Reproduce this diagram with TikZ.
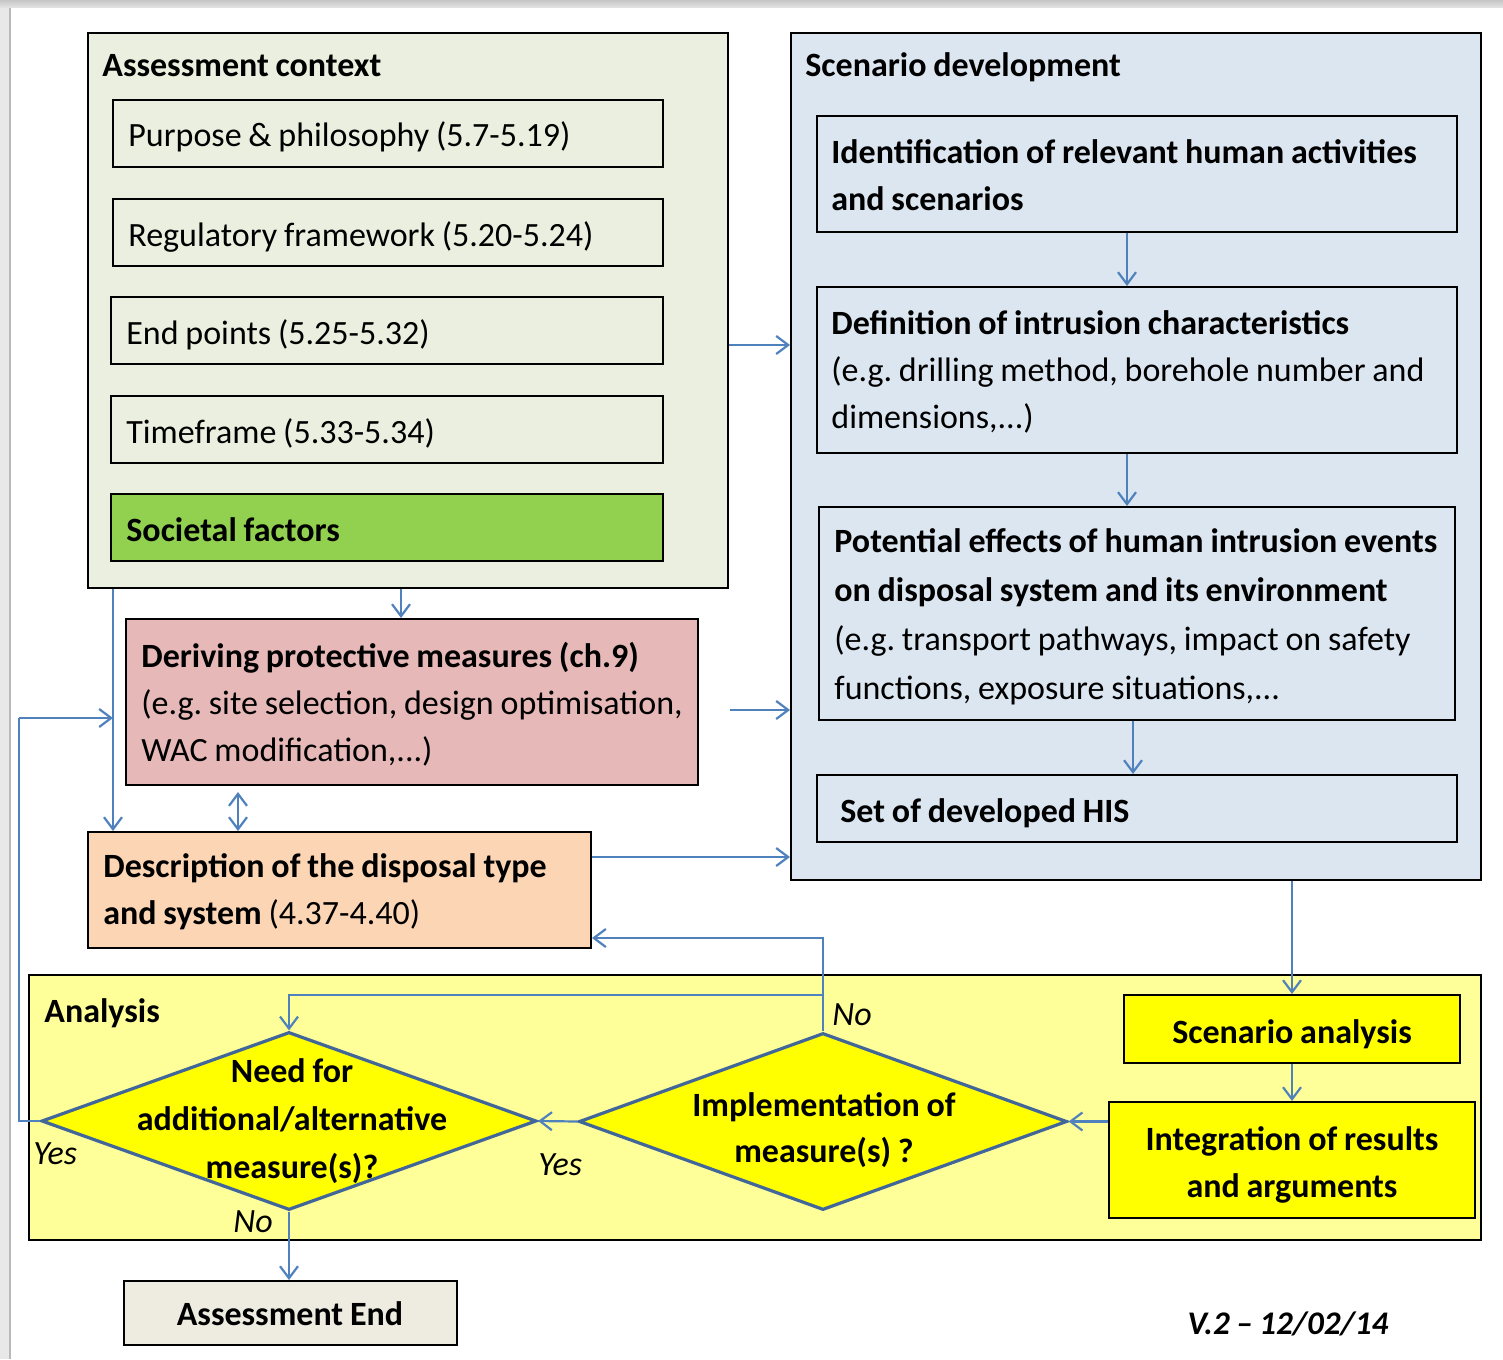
\documentclass[tikz,border=0pt]{standalone}
\usepackage{fontspec}
\setmainfont{Carlito}
\frenchspacing
\usetikzlibrary{arrows.meta,shapes.geometric,fit,calc}
\definecolor{ctxfill}{HTML}{EBEFDF}
\definecolor{scnfill}{HTML}{DCE6F1}
\definecolor{socfill}{HTML}{92D050}
\definecolor{derfill}{HTML}{E6B9B8}
\definecolor{descfill}{HTML}{FCD5B5}
\definecolor{anafill}{HTML}{FFFF99}
\definecolor{boxyellow}{HTML}{FFFF00}
\definecolor{endfill}{HTML}{EEECE1}
\definecolor{arrowblue}{HTML}{4F81BD}
\definecolor{diamondline}{HTML}{41669A}
\begin{document}
\begin{tikzpicture}[x=0.5pt,y=-0.5pt,
  every node/.style={font=\fontsize{17}{23.5}\selectfont},
  box/.style={draw=black,line width=1pt,inner sep=0pt,rectangle},
  tight/.style={execute at begin node={\spaceskip=0.2em\xspaceskip=0.2em\relax}},
  txt/.style={tight,inner sep=0pt,text width=320pt,align=left,anchor=base west},
  ctxt/.style={tight,inner sep=0pt,text width=220pt,align=center,anchor=base},
  lbl/.style={inner sep=0pt,anchor=base west,font=\fontsize{17}{20}\selectfont\itshape},
  conn/.style={draw=arrowblue,line width=1.1pt,-{Straight Barb[length=6pt,width=9pt]}},
  biconn/.style={draw=arrowblue,line width=1.1pt,{Straight Barb[length=6pt,width=9pt]}-{Straight Barb[length=6pt,width=9pt]}},
  wire/.style={draw=arrowblue,line width=1.1pt},
  decision/.style={diamond,draw=diamondline,line width=1.6pt,fill=boxyellow,inner sep=0pt}]

% page and window edge
\useasboundingbox (0,0) rectangle (1503,1359);
\fill[white] (0,0) rectangle (1503,1359);
\shade[top color=gray!45,bottom color=gray!20] (0,0) rectangle (1503,8);
\fill[gray!18] (0,8) rectangle (9,1359);
\draw[gray!55,line width=0.8pt] (10,8) -- (10,1359);

% Assessment context
\node[box,fill=ctxfill,fit={(88,33) (728,588)}] (ctx) {};
\node[txt,font=\fontsize{17}{23.5}\selectfont\bfseries] (ctxtitle) at (102,77) {Assessment context};
\node[box,fit={(113,100) (663,167)}] (purpose) {};
\node[txt] (purposetxt) at (128,147) {Purpose \& philosophy (5.7-5.19)};
\node[box,fit={(113,199) (663,266)}] (regul) {};
\node[txt] (regultxt) at (128,246) {Regulatory framework (5.20-5.24)};
\node[box,fit={(111,297) (663,364)}] (endp) {};
\node[txt] (endptxt) at (126,344) {End points (5.25-5.32)};
\node[box,fit={(111,396) (663,463)}] (timef) {};
\node[txt] (timeftxt) at (126,443) {Timeframe (5.33-5.34)};
\node[box,fill=socfill,fit={(111,494) (663,561)}] (soc) {};
\node[txt,font=\fontsize{17}{23.5}\selectfont\bfseries] (soctxt) at (126,541) {Societal factors};

% Scenario development
\node[box,fill=scnfill,fit={(791,33) (1481,880)}] (scn) {};
\node[txt,font=\fontsize{17}{23.5}\selectfont\bfseries] (scntitle) at (805,77) {Scenario development};
\node[box,fit={(817,116) (1457,232)}] (ident) {};
\node[txt,font=\fontsize{17}{23.5}\selectfont\bfseries] (identtxt) at (831,163) {Identification of relevant human activities\\and scenarios};
\node[box,fit={(817,287) (1457,453)}] (defin) {};
\node[txt] (defintxt) at (831,334) {\textbf{Definition of intrusion characteristics}\\(e.g. drilling method, borehole number and\\dimensions,...)};
\node[box,fit={(819,507) (1455,720)}] (poten) {};
\node[txt,font=\fontsize{17}{24.5}\selectfont] (potentxt) at (834,552) {\textbf{Potential effects of human intrusion events}\\\textbf{on disposal system and its environment}\\(e.g. transport pathways, impact on safety\\functions, exposure situations,...};
\node[box,fit={(817,775) (1457,842)}] (sethis) {};
\node[txt,font=\fontsize{17}{23.5}\selectfont\bfseries] (sethistxt) at (840,822) {Set of developed HIS};

% Protective measures and disposal description
\node[box,fill=derfill,fit={(126,619) (698,785)}] (deriv) {};
\node[txt] (derivtxt) at (141,667) {\textbf{Deriving protective measures (ch.9)}\\(e.g. site selection, design optimisation,\\WAC modification,...)};
\node[box,fill=descfill,fit={(88,832) (591,948)}] (desc) {};
\node[txt] (desctxt) at (103,877) {\textbf{Description of the disposal type}\\\textbf{and system} (4.37-4.40)};

% Analysis
\node[box,fill=anafill,fit={(29,975) (1481,1240)}] (ana) {};
\node[txt,font=\fontsize{17}{23.5}\selectfont\bfseries] (anatitle) at (44,1022) {Analysis};
\node[box,fill=boxyellow,fit={(1124,995) (1460,1063)}] (scana) {};
\node[ctxt,font=\fontsize{17}{23.5}\selectfont\bfseries] (scanatxt) at (1292,1043) {Scenario analysis};
\node[box,fill=boxyellow,fit={(1109,1102) (1475,1218)}] (integ) {};
\node[ctxt,font=\fontsize{17}{23.5}\selectfont\bfseries] (integtxt) at (1292,1150) {Integration of results\\and arguments};
\node[decision,minimum width=244pt,minimum height=88.5pt] (impl) at (823,1121.5) {};
\node[ctxt,font=\fontsize{17}{23}\selectfont\bfseries] (impltxt) at (824,1116) {Implementation of\\measure(s) ?};
\node[decision,minimum width=247.5pt,minimum height=89pt] (need) at (289,1121) {};
\node[ctxt,font=\fontsize{17}{24}\selectfont\bfseries] (needtxt) at (292,1082) {Need for\\additional/alternative\\measure(s)?};

% End of assessment
\node[box,fill=endfill,fit={(124,1281) (457,1345)}] (endbox) {};
\node[ctxt,font=\fontsize{17}{23.5}\selectfont\bfseries] (endtxt) at (290,1325) {Assessment End};
\node[ctxt,font=\fontsize{16.5}{20}\selectfont\bfseries\itshape] (version) at (1288,1334) {V.2 -- 12/02/14};

% decision labels
\node[lbl] (yesneed) at (33,1164) {Yes};
\node[lbl] (yesimpl) at (538,1175) {Yes};
\node[lbl] (noneed) at (233,1232) {No};
\node[lbl] (noimpl) at (832,1025) {No};

% helper positions
\coordinate (yctx) at (0,345);
\coordinate (dout) at (730,710);
\coordinate (ydesc) at (0,857);
\coordinate (xderiv) at (401,0);
\coordinate (xleft) at (113,0);
\coordinate (xboth) at (238,0);
\coordinate (xsc1) at (1127,0);
\coordinate (xsc3) at (1133,0);
\coordinate (loopx) at (19,718);
\coordinate (loopin) at (113,718);
\coordinate (yback) at (0,938);
\coordinate (ynew) at (0,995);

% connectors
\draw[conn] (ctx.east |- yctx) -- (scn.west |- yctx);
\draw[conn] (dout) -- (dout -| scn.west);
\draw[conn] (desc.east |- ydesc) -- (scn.west |- ydesc);
\draw[conn] (ctx.south -| xderiv) -- (deriv.north -| xderiv);
\draw[conn] (ctx.south -| xleft) -- (desc.north -| xleft);
\draw[biconn,shorten <=3pt] (deriv.south -| xboth) -- (desc.north -| xboth);
\draw[conn] (ident.south -| xsc1) -- (defin.north -| xsc1);
\draw[conn] (defin.south -| xsc1) -- (poten.north -| xsc1);
\draw[conn] (poten.south -| xsc3) -- (sethis.north -| xsc3);
\draw[conn] (scn.south -| scana.north) -- (scana.north);
\draw[conn] (scana.south) -- (integ.north);
\draw[conn] (integ.west |- impl.east) -- (impl.east);
\draw[conn] (impl.west) -- (need.east);
\draw[conn] (need.south) -- (need.south |- endbox.north);
\draw[conn] (impl.north) |- (desc.east |- yback);
\draw[conn] (impl.north |- ynew) -| (need.north);
\draw[wire] (need.west) -| (loopx);
\draw[conn] (loopx) -- (loopin);
\end{tikzpicture}
\end{document}
